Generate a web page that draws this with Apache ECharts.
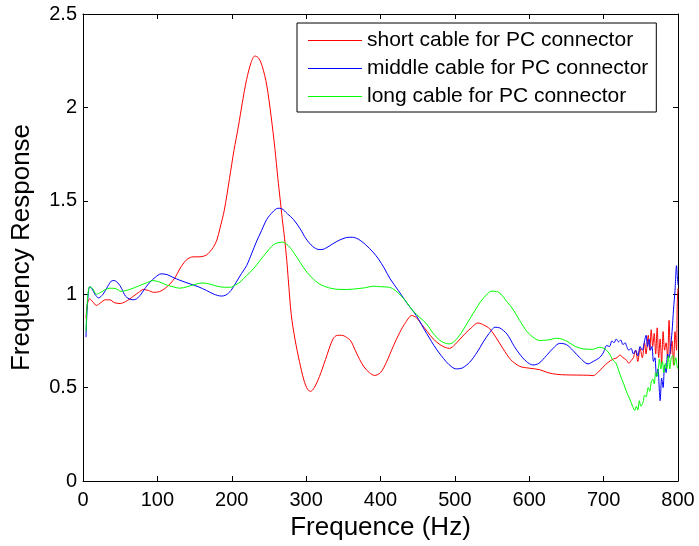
<!DOCTYPE html>
<html>
<head>
<meta charset="utf-8">
<script src="https://cdn.jsdelivr.net/npm/echarts@6/dist/echarts.min.js"></script>
<style>
  html, body { margin: 0; padding: 0; background: #fff; }
  #chart { width: 699px; height: 546px; }
</style>
</head>
<body>
<div id="chart"></div>
<script>
// tick values
var xTicks = [0, 100, 200, 300, 400, 500, 600, 700, 800];
var yTicks = [0, 0.5, 1, 1.5, 2, 2.5];

var seriesNames = ['short cable for PC connector', 'middle cable for PC connector', 'long cable for PC connector'];

// [frequency Hz, response]
var shortCable = [
  [4,0.87],[6,0.95],[9,0.975],[13,0.96],[18,0.94],[24,0.955],[30,0.97],[36,0.97],[42,0.955],[50,0.95],
  [57,0.96],[63,0.975],[68,0.99],[75,1.01],[81,1.025],[88,1.02],[95,1.01],[103,1.014],[110,1.03],[117,1.055],
  [124,1.09],[130,1.135],[136,1.17],[141,1.19],[148,1.2],[156,1.2],[166,1.21],[175,1.25],[180,1.29],[184,1.35],
  [190,1.45],[197,1.62],[203,1.77],[209,1.9],[214,2.02],[220,2.15],[226,2.24],[231,2.275],[236,2.265],[241,2.22],
  [247,2.12],[253,1.95],[258,1.78],[262,1.62],[265,1.51],[268,1.40],[271,1.30],[274,1.18],[276,1.08],[280,0.89],
  [285,0.76],[291,0.64],[297,0.54],[302,0.49],[306,0.48],[311,0.5],[318,0.56],[326,0.65],[336,0.76],[342,0.78],
  [348,0.78],[354,0.77],[360,0.75],[366,0.7],[372,0.65],[378,0.61],[385,0.58],[392,0.565],[400,0.58],[408,0.636],
  [417,0.72],[426,0.796],[434,0.85],[442,0.886],[448,0.875],[455,0.84],[463,0.8],[471,0.76],[480,0.73],[487,0.715],
  [493,0.71],[500,0.73],[507,0.76],[514,0.79],[522,0.82],[531,0.846],[539,0.835],[547,0.814],[555,0.77],[565,0.707],
  [575,0.65],[587,0.614],[600,0.604],[614,0.596],[625,0.58],[637,0.571],[650,0.568],[665,0.567],[680,0.566],[686,0.564],
  [692,0.58],[699,0.609],[706,0.635],[713,0.653],[718,0.66],[722,0.675],[726,0.66],[730,0.65],[734,0.63],[737,0.645],
  [740,0.66],[743,0.70],[746,0.64],[749,0.71],[752,0.66],[755,0.74],[757,0.68],[760,0.78],[762,0.70],[764,0.81],
  [766,0.72],[768,0.79],[770,0.68],[772,0.82],[774,0.66],[776,0.76],[778,0.63],[780,0.80],[782,0.70],[784,0.74],
  [786,0.66],[788,0.86],[790,0.68],[792,0.75],[794,0.62],[796,0.80],[798,0.70],[799,0.95],[800,1.03]
];

var middleCable = [
  [4,0.77],[6,0.95],[9,1.04],[12,1.03],[16,1.0],[21,0.98],[27,1.0],[33,1.04],[38,1.07],[42,1.073],
  [47,1.06],[52,1.03],[57,0.99],[62,0.975],[67,0.97],[72,0.975],[78,1.0],[84,1.035],[90,1.064],[97,1.09],
  [105,1.109],[113,1.105],[121,1.09],[130,1.075],[144,1.055],[155,1.04],[166,1.02],[176,1.0],[186,0.99],[192,0.995],
  [199,1.02],[206,1.064],[213,1.11],[220,1.153],[227,1.22],[233,1.279],[240,1.34],[247,1.40],[255,1.44],[262,1.46],
  [267,1.458],[275,1.43],[283,1.40],[292,1.35],[300,1.296],[309,1.255],[316,1.24],[321,1.239],[328,1.25],[336,1.27],
  [345,1.29],[354,1.303],[362,1.305],[370,1.295],[380,1.265],[390,1.225],[397,1.19],[405,1.14],[413,1.082],[424,1.02],
  [436,0.95],[448,0.886],[462,0.79],[475,0.707],[488,0.64],[496,0.61],[502,0.60],[510,0.605],[520,0.636],[530,0.69],
  [538,0.743],[546,0.79],[554,0.823],[560,0.82],[570,0.787],[580,0.72],[587,0.68],[596,0.64],[605,0.621],[613,0.63],
  [623,0.671],[632,0.71],[641,0.737],[650,0.73],[659,0.698],[668,0.66],[679,0.627],[686,0.64],[695,0.662],[700,0.69],
  [704,0.725],[708,0.72],[711,0.75],[714,0.74],[717,0.76],[720,0.745],[723,0.755],[726,0.73],[729,0.74],[731,0.72],
  [734,0.70],[737,0.71],[740,0.68],[743,0.70],[746,0.67],[749,0.72],[752,0.70],[755,0.75],[757,0.78],[759,0.72],
  [761,0.76],[763,0.70],[765,0.72],[767,0.64],[769,0.66],[771,0.56],[773,0.60],[775,0.48],[776,0.43],[778,0.55],
  [780,0.50],[782,0.62],[784,0.58],[786,0.68],[788,0.66],[790,0.72],[792,0.80],[794,0.92],[796,1.02],[798,1.153],
  [799,1.10],[800,1.05]
];

var longCable = [
  [4,0.80],[6,0.97],[9,1.04],[13,1.03],[18,1.0],[24,1.01],[30,1.025],[36,1.032],[44,1.03],[51,1.015],
  [58,1.02],[66,1.03],[76,1.046],[85,1.06],[94,1.073],[103,1.065],[112,1.05],[121,1.04],[130,1.032],[140,1.04],
  [150,1.052],[160,1.06],[170,1.055],[180,1.043],[190,1.037],[198,1.037],[205,1.05],[211,1.064],[220,1.10],[229,1.135],
  [238,1.18],[246,1.22],[256,1.265],[262,1.275],[268,1.279],[276,1.26],[283,1.225],[292,1.17],[301,1.118],[310,1.08],
  [320,1.05],[330,1.035],[340,1.027],[354,1.025],[370,1.03],[380,1.035],[390,1.043],[400,1.04],[412,1.037],[420,1.02],
  [428,0.99],[435,0.957],[444,0.91],[453,0.875],[462,0.841],[471,0.79],[480,0.752],[487,0.738],[493,0.734],[500,0.75],
  [508,0.79],[516,0.841],[525,0.90],[534,0.957],[542,0.995],[549,1.016],[556,1.015],[562,1.0],[570,0.96],[578,0.92],
  [587,0.86],[596,0.805],[605,0.77],[614,0.752],[625,0.755],[637,0.764],[645,0.758],[652,0.745],[662,0.72],[673,0.707],
  [685,0.705],[695,0.716],[700,0.71],[704,0.70],[708,0.68],[712,0.65],[717,0.627],[722,0.57],[727,0.52],[731,0.475],
  [735,0.44],[739,0.40],[742,0.377],[744,0.40],[746,0.38],[748,0.43],[750,0.40],[753,0.421],[755,0.46],[757,0.45],
  [760,0.50],[762,0.48],[764,0.53],[766,0.546],[768,0.52],[770,0.58],[772,0.56],[774,0.62],[775,0.653],[777,0.60],
  [779,0.64],[781,0.58],[783,0.63],[785,0.60],[787,0.67],[789,0.60],[791,0.66],[793,0.671],[795,0.62],[797,0.66],
  [799,0.61],[800,0.60]
];

var FONT = '"Liberation Sans", Arial, Helvetica, sans-serif';

var chart = echarts.init(document.getElementById('chart'));

function boxAxis(pos, min, max, interval) {
  return {
    type: 'value', position: pos, min: min, max: max, interval: interval,
    axisLine: { show: true, onZero: false, lineStyle: { color: '#000', width: 1 } },
    axisTick: { show: true, inside: true, length: 5, lineStyle: { color: '#000' } },
    axisLabel: { show: false },
    splitLine: { show: false }
  };
}

var xMain = boxAxis('bottom', xTicks[0], xTicks[xTicks.length - 1], 100);
xMain.axisLabel = { show: true, color: '#000', fontSize: 20, fontFamily: FONT, margin: 9 };
xMain.name = 'Frequence (Hz)';
xMain.nameLocation = 'middle';
xMain.nameGap = 34;
xMain.nameTextStyle = { color: '#000', fontSize: 26, fontFamily: FONT };

var yMain = boxAxis('left', yTicks[0], yTicks[yTicks.length - 1], 0.5);
yMain.axisLabel = { show: true, color: '#000', fontSize: 20, fontFamily: FONT, margin: 6 };
yMain.name = 'Frequency Response';
yMain.nameLocation = 'middle';
yMain.nameGap = 48;
yMain.nameTextStyle = { color: '#000', fontSize: 26, fontFamily: FONT };

var colors = ['#ff0000', '#0000ff', '#00ff00'];
var datasets = [shortCable, middleCable, longCable];

var option = {
  animation: false,
  backgroundColor: '#fff',
  grid: { left: 83, right: 21, top: 14, bottom: 64 },
  xAxis: [xMain, boxAxis('top', xTicks[0], xTicks[xTicks.length - 1], 100)],
  yAxis: [yMain, boxAxis('right', yTicks[0], yTicks[yTicks.length - 1], 0.5)],
  legend: {
    left: 297, top: 23,
    orient: 'vertical',
    backgroundColor: '#fff',
    borderColor: '#000', borderWidth: 1, borderRadius: 0,
    padding: [7, 8, 5, 11],
    itemGap: 7,
    icon: 'rect',
    itemWidth: 54, itemHeight: 1,
    textStyle: { color: '#000', fontSize: 21, fontFamily: FONT },
    data: seriesNames
  },
  series: datasets.map(function (d, i) {
    return {
      name: seriesNames[i],
      type: 'line',
      xAxisIndex: 0, yAxisIndex: 0,
      data: d,
      symbol: 'none',
      smooth: 0.3,
      color: colors[i],
      lineStyle: { width: 1, color: colors[i] }
    };
  })
};
chart.setOption(option);
</script>
</body>
</html>
